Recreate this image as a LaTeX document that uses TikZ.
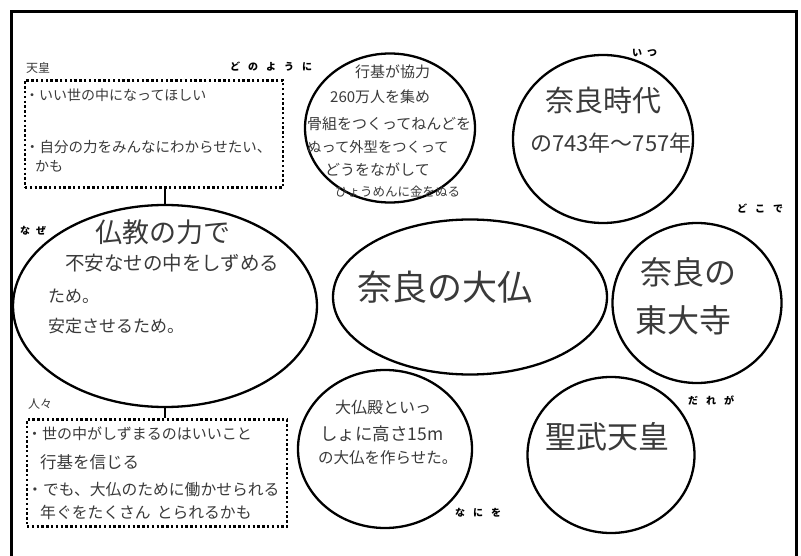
\documentclass[tikz,border=0pt]{standalone}
\usepackage{fontspec}
\setmainfont{Noto Sans CJK JP}
\usetikzlibrary{shapes.geometric}
\definecolor{pencil}{HTML}{3A3A3A}
\newcommand\fsz[1]{\fontsize{#1pt}{#1pt}\selectfont}
\newcommand\gap{\hspace{8pt}}
\tikzset{
  ell/.style={draw, ellipse, line width=2.3pt, inner sep=0pt},
  dotbox/.style={draw, line width=2.4pt, dash pattern=on 2.4pt off 2.4pt, inner sep=0pt},
  lbl/.style={font=\bfseries\fsz{10}, inner sep=0pt, anchor=west},
  hw/.style={text=pencil, inner sep=0pt, anchor=west},
  conn/.style={line width=2.3pt},
}
\begin{document}
\begin{tikzpicture}[x=1pt,y=-1pt]
\useasboundingbox (0,0) rectangle (801,556);
\fill[white] (0,0) rectangle (801,556);
\draw[line width=3pt] (11,570) -- (11,12) -- (796,12) -- (796,570);

% shapes
\node[ell, minimum width=304pt, minimum height=202pt] (why) at (165,306) {};
\node[ell, minimum width=170pt, minimum height=149pt] (how) at (390,128) {};
\node[ell, minimum width=180pt, minimum height=168pt] (when) at (603,139) {};
\node[ell, minimum width=274pt, minimum height=155pt] (main) at (470,297) {};
\node[ell, minimum width=169pt, minimum height=160pt] (where) at (697,303) {};
\node[ell, minimum width=167pt, minimum height=156pt] (who) at (611,455) {};
\node[ell, minimum width=174pt, minimum height=158pt] (what) at (385,449) {};
\node[dotbox, minimum width=258pt, minimum height=107pt] (topbox) at (154,134) {};
\node[dotbox, minimum width=260pt, minimum height=107pt] (botbox) at (157,473) {};

% connectors
\draw[conn] (topbox.south -| why.north) -- (why.north);
\draw[conn] (why.south) -- (botbox.north -| why.south);

% printed labels
\node[lbl] (lhow) at (230,67) {ど\gap の\gap よ\gap う\gap に};
\node[lbl] (lwhen) at (632,53) {い\hspace{5pt}つ};
\node[lbl] (lwhere) at (737,209) {ど\gap こ\gap で};
\node[lbl] (lwhy) at (20,231) {な\hspace{6pt}ぜ};
\node[lbl] (lwho) at (688,400) {だ\gap れ\gap が};
\node[lbl] (lwhat) at (455,513) {な\gap に\gap を};

% handwritten labels
\node[hw, font=\fsz{12}] (lemp) at (26,68) {天皇};
\node[hw, font=\fsz{12}] (lpeople) at (28,404) {人々};

% top box
\node[hw, font=\fsz{14}] (t1) at (25,95) {・いい世の中になってほしい};
\node[hw, font=\fsz{14.5}] (t2) at (25,147) {・自分の力をみんなにわからせたい、};
\node[hw, font=\fsz{14}] (t3) at (35,166) {かも};

% how
\node[hw, font=\fsz{15}] (h1) at (355,72) {行基が協力};
\node[hw, font=\fsz{15}] (h2) at (330,97) {260万人を集め};
\node[hw, font=\fsz{15}] (h3) at (307,124) {骨組をつくってねんどを};
\node[hw, font=\fsz{14.3}] (h4) at (307,147) {ぬって外型をつくって};
\node[hw, font=\fsz{15}] (h5) at (325,170) {どうをながして};
\node[hw, font=\fsz{12.5}] (h6) at (335,192) {ひょうめんに金をぬる};

% when
\node[hw, font=\fsz{29}] (w1) at (545,100) {奈良時代};
\node[hw, font=\fsz{22}] (w2) at (530,143) {の743年〜757年};

% why
\node[hw, font=\fsz{27}] (y1) at (95,232) {仏教の力で};
\node[hw, font=\fsz{19.5}] (y2) at (65,263) {不安なせの中をしずめる};
\node[hw, font=\fsz{17}] (y3) at (48,296) {ため。};
\node[hw, font=\fsz{17}] (y4) at (48,326) {安定させるため。};

% main
\node[hw, font=\fsz{35}] (m1) at (357,287) {奈良の大仏};

% where
\node[hw, font=\fsz{32}] (p1) at (640,272) {奈良の};
\node[hw, font=\fsz{32}] (p2) at (635,320) {東大寺};

% who
\node[hw, font=\fsz{31}] (k1) at (545,437) {聖武天皇};

% what
\node[hw, font=\fsz{16}] (a1) at (335,407) {大仏殿といっ};
\node[hw, font=\fsz{17.5}] (a2) at (320,434) {しょに高さ15m};
\node[hw, font=\fsz{15.5}] (a3) at (318,458) {の大仏を作らせた。};

% bottom box
\node[hw, font=\fsz{15}] (b1) at (27,434) {・世の中がしずまるのはいいこと};
\node[hw, font=\fsz{16.5}] (b2) at (40,462) {行基を信じる};
\node[hw, font=\fsz{15.8}] (b3) at (27,490) {・でも、大仏のために働かせられる};
\node[hw, font=\fsz{15.8}] (b4) at (40,512) {年ぐをたくさん\hspace{6pt}とられるかも};
\end{tikzpicture}
\end{document}
